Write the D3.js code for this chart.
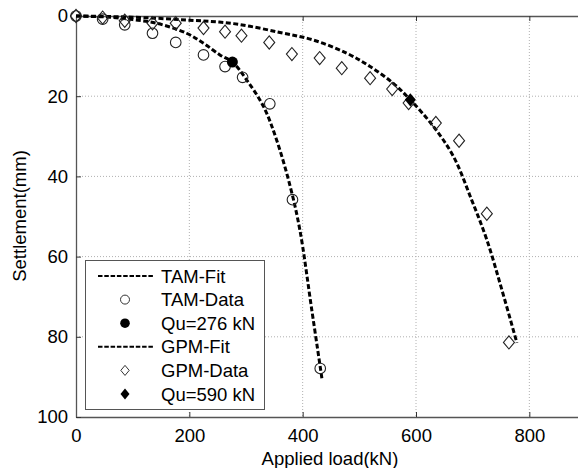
<!DOCTYPE html>
<html>
<head>
<meta charset="utf-8">
<script src="https://cdn.jsdelivr.net/npm/d3@7"></script>
<style>
  body { margin: 0; background: white; }
  text { font-family: "Liberation Sans", Arial, sans-serif; }
</style>
</head>
<body>
<div id="chartContainer"></div>
<script>
// data
var tamLoad   = [0, 47, 86, 135, 176, 225, 263, 294, 342, 382, 431];
var tamSettle = [0, 0.8, 2.2, 4.3, 6.6, 9.7, 12.6, 15.3, 21.9, 45.8, 87.9];

var gpmLoad   = [0, 47, 86, 135, 176, 225, 263, 292, 341, 381, 430, 469, 519, 558, 587, 635, 676, 725, 764];
var gpmSettle = [0, 0.4, 1.2, 1.8, 1.8, 3.0, 3.9, 4.9, 6.6, 9.5, 10.5, 13.0, 15.5, 18.2, 21.7, 26.7, 31.1, 49.3, 81.4];

var tamFitLoad   = [0, 60, 100, 142, 195, 225, 254, 276, 301, 331, 354, 378, 395, 416, 434];
var tamFitSettle = [0, 0.3, 0.9, 1.8, 4.3, 6.8, 9.7, 11.5, 15.9, 22.6, 30.9, 42.5, 53.3, 73.2, 90.4];

var gpmFitLoad   = [0, 100, 195, 278, 360, 419, 478, 519, 560, 590, 631, 666, 698, 725, 752, 778];
var gpmFitSettle = [0, 0.3, 1.0, 1.9, 4.1, 6.0, 9.3, 12.6, 16.8, 20.9, 27.6, 35, 45.8, 55.8, 68.5, 81.5];

var tamQu = [276, 11.5];
var gpmQu = [590, 20.9];

var xTicks = [0, 200, 400, 600, 800];
var yTicks = [0, 20, 40, 60, 80, 100];

var legendLabels = ["TAM-Fit", "TAM-Data", "Qu=276 kN", "GPM-Fit", "GPM-Data", "Qu=590 kN"];

var W = 578, H = 468;
var margin = { top: 16, right: -8, bottom: 51, left: 76 };
var width = W - margin.left - margin.right;
var height = H - margin.top - margin.bottom;

var lineStyle = 'fill: none; stroke: black; stroke-width: 3; stroke-dasharray: 5 2.5;';
var gridStyle = 'stroke: #b0b0b0; stroke-width: 1; stroke-dasharray: 1 2;';

function zip(a, b) { return a.map(function (v, i) { return [v, b[i]]; }); }

var svg = d3.select("#chartContainer")
    .append("svg")
    .attr("width", W)
    .attr("height", H);

var g = svg.append("g")
    .attr("transform", `translate(${margin.left}, ${margin.top})`);

var x = d3.scaleLinear().domain([0, 900]).range([0, width]);
var y = d3.scaleLinear().domain([0, 100]).range([0, height]);

// grid
g.append("g").selectAll("line")
    .data(xTicks.slice(1))
    .enter().append("line")
    .attr("x1", d => x(d)).attr("x2", d => x(d))
    .attr("y1", 0).attr("y2", height)
    .attr("style", gridStyle);
g.append("g").selectAll("line")
    .data(yTicks.slice(1, -1))
    .enter().append("line")
    .attr("x1", 0).attr("x2", width)
    .attr("y1", d => y(d)).attr("y2", d => y(d))
    .attr("style", gridStyle);

// axes, ticks pointing inwards
function styleAxis(sel) {
    sel.selectAll("text").attr("font-size", 18.5).attr("fill", "black");
    sel.selectAll("line").attr("stroke", "#333");
    sel.select(".domain").attr("stroke", "#555").attr("stroke-width", 1.3);
}

g.append("g")
    .attr("transform", `translate(0, ${height})`)
    .call(d3.axisBottom(x).tickValues(xTicks).tickSizeInner(-5).tickSizeOuter(0).tickPadding(12))
    .call(styleAxis);
g.append("g")
    .call(d3.axisTop(x).tickValues(xTicks).tickSizeInner(-5).tickSizeOuter(0).tickFormat(""))
    .call(styleAxis);
g.append("g")
    .call(d3.axisLeft(y).tickValues(yTicks).tickSizeInner(-5).tickSizeOuter(0).tickPadding(8))
    .call(styleAxis);

// fit curves
var line = d3.line()
    .x(d => x(d[0]))
    .y(d => y(d[1]))
    .curve(d3.curveCatmullRom.alpha(0.5));

g.append("path").datum(zip(tamFitLoad, tamFitSettle)).attr("d", line).attr("style", lineStyle);
g.append("path").datum(zip(gpmFitLoad, gpmFitSettle)).attr("d", line).attr("style", lineStyle);

var diamond = function (s) {
    return `M0,${-s * 1.2} L${s},0 L0,${s * 1.2} L${-s},0 Z`;
};

// data markers
g.append("g").selectAll("path")
    .data(zip(gpmLoad, gpmSettle))
    .enter().append("path")
    .attr("d", diamond(5.5))
    .attr("transform", d => `translate(${x(d[0])}, ${y(d[1])})`)
    .attr("fill", "none").attr("stroke", "#222").attr("stroke-width", 1.1);

g.append("g").selectAll("circle")
    .data(zip(tamLoad, tamSettle))
    .enter().append("circle")
    .attr("cx", d => x(d[0])).attr("cy", d => y(d[1]))
    .attr("r", 5.3)
    .attr("fill", "none").attr("stroke", "#222").attr("stroke-width", 1.1);

g.append("circle")
    .attr("cx", x(tamQu[0])).attr("cy", y(tamQu[1]))
    .attr("r", 5.5).attr("fill", "black");
g.append("path")
    .attr("d", diamond(5.5))
    .attr("transform", `translate(${x(gpmQu[0])}, ${y(gpmQu[1])})`)
    .attr("fill", "black");

// axis labels
svg.append("text")
    .attr("x", 330).attr("y", 465)
    .attr("text-anchor", "middle")
    .attr("font-size", 18.5)
    .text("Applied load(kN)");
svg.append("text")
    .attr("transform", "translate(26, 216) rotate(-90)")
    .attr("text-anchor", "middle")
    .attr("font-size", 18.5)
    .text("Settlement(mm)");

// legend
var lg = svg.append("g");
lg.append("rect")
    .attr("x", 85.5).attr("y", 260.5)
    .attr("width", 179).attr("height", 149)
    .attr("fill", "white").attr("stroke", "#555").attr("stroke-width", 1);

var rowY = 276, rowStep = 23.6;
legendLabels.forEach(function (label, i) {
    var cy = rowY + i * rowStep;
    if (i == 0 || i == 3) {
        lg.append("line")
            .attr("x1", 98).attr("x2", 154)
            .attr("y1", cy).attr("y2", cy)
            .attr("style", 'stroke: black; stroke-width: 2; stroke-dasharray: 4.5 1.8;');
    } else if (i == 1) {
        lg.append("circle").attr("cx", 125).attr("cy", cy).attr("r", 4.5)
            .attr("fill", "none").attr("stroke", "#333");
    } else if (i == 2) {
        lg.append("circle").attr("cx", 125).attr("cy", cy).attr("r", 4.8).attr("fill", "black");
    } else if (i == 4) {
        lg.append("path").attr("d", diamond(4.2)).attr("transform", `translate(125, ${cy})`)
            .attr("fill", "none").attr("stroke", "#333");
    } else {
        lg.append("path").attr("d", diamond(4.5)).attr("transform", `translate(125, ${cy})`)
            .attr("fill", "black");
    }
    lg.append("text")
        .attr("x", 161).attr("y", cy + 6.5)
        .attr("font-size", 18.5)
        .text(label);
});
</script>
</body>
</html>
